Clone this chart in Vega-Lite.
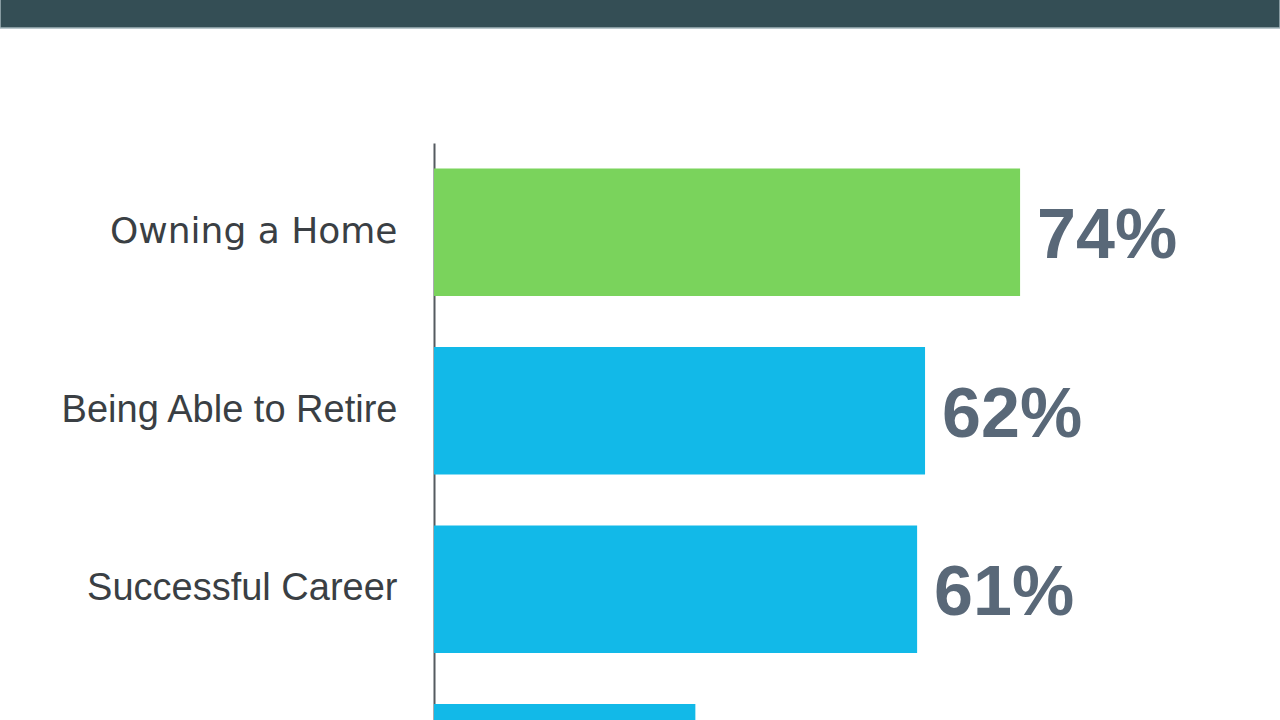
{
  "$schema": "https://vega.github.io/schema/vega-lite/v6.json",
  "width": 1280,
  "height": 720,
  "autosize": "none",
  "padding": 0,
  "background": "white",
  "config": {"view": {"stroke": null}},
  "layer": [
    {
      "data": {"values": [{"start": 0, "end": 1, "top": 0, "bottom": 1}]},
      "mark": {"type": "rect", "color": "#344e55", "stroke": "#a3b5ba", "strokeWidth": 1.5},
      "encoding": {
        "x": {"field": "start", "type": "quantitative", "scale": {"domain": [0, 1], "nice": false, "zero": false}, "axis": null},
        "x2": {"field": "end"},
        "y": {"field": "top", "type": "quantitative", "scale": {"domain": [0, 1], "range": [-2, 28], "nice": false, "zero": false}, "axis": null},
        "y2": {"field": "bottom"}
      }
    },
    {
      "data": {
        "values": [
          {"goal": "Owning a Home", "pct": 74, "label": "74%", "highlight": "yes"},
          {"goal": "Being Able to Retire", "pct": 62, "label": "62%", "highlight": "no"},
          {"goal": "Successful Career", "pct": 61, "label": "61%", "highlight": "no"},
          {"goal": "Paying Off Debt", "pct": 33, "label": "33%", "highlight": "no"}
        ]
      },
      "encoding": {
        "y": {
          "field": "goal",
          "type": "nominal",
          "sort": null,
          "scale": {"range": [143, 857], "paddingInner": 0.2857, "paddingOuter": 0.14285},
          "axis": {
            "title": null,
            "orient": "left",
            "offset": -434,
            "ticks": false,
            "tickSize": 0,
            "labelPadding": 37,
            "labelFontSize": {"condition": {"test": "datum.value === 'Owning a Home'", "value": 36}, "value": 38},
            "labelFont": {"condition": {"test": "datum.value === 'Owning a Home'", "value": "DejaVu Sans"}, "value": "Liberation Sans"},
            "labelColor": "#3a3f44",
            "labelLimit": 500,
            "domainColor": "#555b60",
            "domainWidth": 2,
            "grid": false
          }
        }
      },
      "layer": [
        {
          "mark": {"type": "bar"},
          "encoding": {
            "x": {"field": "pct", "type": "quantitative", "scale": {"domain": [0, 100], "range": [434, 1226], "nice": false}, "axis": null},
            "color": {
              "field": "highlight",
              "type": "nominal",
              "scale": {"domain": ["yes", "no"], "range": ["#7ad35c", "#12b9e8"]},
              "legend": null
            }
          }
        },
        {
          "mark": {
            "type": "text",
            "align": "left",
            "baseline": "middle",
            "dx": 17,
            "dy": 5,
            "font": "Liberation Sans",
            "fontSize": 70,
            "fontWeight": "bold",
            "color": "#596878"
          },
          "encoding": {
            "x": {"field": "pct", "type": "quantitative", "scale": {"domain": [0, 100], "range": [434, 1226], "nice": false}, "axis": null},
            "text": {"field": "label"}
          }
        }
      ]
    }
  ],
  "resolve": {"scale": {"x": "independent", "y": "independent"}}
}
